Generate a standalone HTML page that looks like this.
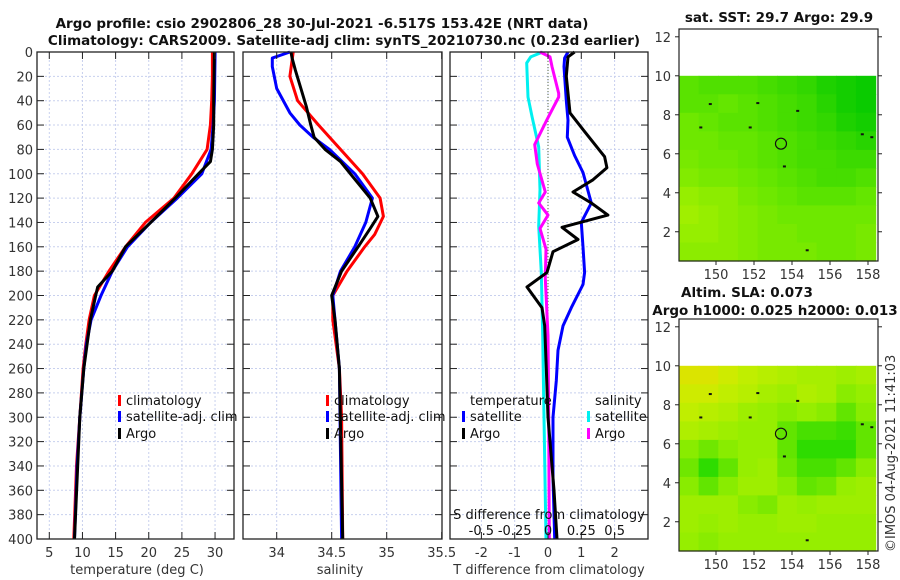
<!DOCTYPE html>
<html><head><meta charset="utf-8">
<style>
html,body{margin:0;padding:0;background:#fff;}
svg{display:block;font-family:"DejaVu Sans","Liberation Sans",sans-serif;}
</style></head>
<body>
<svg id="fig" width="900" height="580" viewBox="0 0 900 580"></svg>
<script>
// ---------- DATA ----------
const depthTicks = [0,20,40,60,80,100,120,140,160,180,200,220,240,260,280,300,320,340,360,380,400];
const tempTicks = [5,10,15,20,25,30];
const salTicks = [34,34.5,35,35.5];
const tdiffTicks = [-2,-1,0,1,2];
const sdiffTicks = [-0.5,-0.25,0,0.25,0.5];
const sdiffTickLabels = ["-0.5","-0.25","0","0.25","0.5"];
const latTicks = [2,4,6,8,10,12];
const lonTicks = [150,152,154,156,158];

const tClimDepth = [0,20,40,60,80,100,120,140,160,180,200,220,240,260,300,340,400];
const tClimVal   = [29.6,29.6,29.5,29.3,28.8,26.5,23.8,19.5,16.5,14,11.8,11,10.5,10.1,9.6,9.1,8.7];
const tSatDepth  = [0,40,60,80,100,120,140,160,180,200,220,240,260,300,340,400];
const tSatVal    = [30,29.9,29.7,29.4,28,24.3,20.3,16.8,14.5,12.8,11.3,10.6,10.2,9.6,9.2,8.8];
const tArgoDepth = [0,40,60,80,90,100,120,140,160,180,193,200,220,260,300,400];
const tArgoVal   = [29.9,29.8,29.8,29.6,29.3,27.5,24,20.3,16.5,14.5,12.3,12,11.2,10.2,9.6,8.8];

const sClimDepth = [0,20,40,60,80,100,120,135,150,160,180,200,220,260,300,400];
const sClimVal   = [34.15,34.12,34.19,34.38,34.58,34.78,34.94,34.97,34.89,34.8,34.64,34.51,34.51,34.57,34.59,34.6];
const sSatDepth  = [0,5,12,30,50,60,70,80,100,120,140,160,180,200,220,260,400];
const sSatVal    = [34.12,33.96,33.96,34.0,34.12,34.21,34.33,34.48,34.71,34.87,34.81,34.71,34.58,34.51,34.53,34.57,34.59];
const sArgoDepth = [0,5,15,30,45,60,70,80,90,100,120,135,145,160,180,200,220,260,400];
const sArgoVal   = [34.13,34.14,34.17,34.22,34.27,34.31,34.34,34.44,34.58,34.67,34.85,34.92,34.85,34.74,34.59,34.5,34.53,34.57,34.6];

const dTSatDepth = [0,5,12,40,56,70,85,99,124,140,160,181,191,210,225,245,270,300,350,400];
const dTSatVal   = [0.6,0.5,0.48,0.55,0.6,0.58,0.8,1.05,1.3,1.0,1.05,1.1,1.05,0.7,0.45,0.3,0.25,0.15,0.15,0.2];
const dTArgoDepth = [0,4,20,50,64,86,95,105,115,124,134,144,154,164,181,193,210,225,260,300,323,360,400];
const dTArgoVal   = [0.8,0.6,0.55,0.66,1.06,1.7,1.77,1.35,0.75,1.3,1.8,0.42,0.9,0.15,-0.03,-0.63,-0.18,-0.1,-0.05,0.0,0.07,0.18,0.27];
const dSSatDepth = [0,4,9,37,53,78,113,143,181,233,300,400];
const dSSatVal   = [-0.04,-0.13,-0.16,-0.15,-0.12,-0.07,-0.06,-0.07,-0.05,-0.04,-0.03,-0.015];
const dSArgoDepth = [0,4,12,34,37,56,76,92,115,124,134,145,162,186,233,300,400];
const dSArgoVal   = [-0.06,0.015,0.03,0.08,0.08,-0.01,-0.1,-0.08,-0.02,-0.07,0,-0.06,-0.015,-0.02,0,0.005,0.01];

const sstGrid = [
[0.45,0.4,0.4,0.4,0.35,0.3,0.25,0.15,0.1,0.05],
[0.45,0.45,0.5,0.45,0.4,0.35,0.3,0.2,0.1,0.05],
[0.55,0.5,0.45,0.45,0.4,0.35,0.3,0.25,0.15,0.1],
[0.55,0.55,0.5,0.5,0.45,0.4,0.35,0.3,0.25,0.2],
[0.6,0.55,0.55,0.5,0.45,0.4,0.35,0.35,0.3,0.3],
[0.65,0.6,0.6,0.55,0.5,0.45,0.4,0.35,0.35,0.4],
[0.75,0.7,0.7,0.6,0.55,0.5,0.45,0.45,0.45,0.5],
[0.8,0.75,0.7,0.65,0.6,0.55,0.55,0.55,0.55,0.55],
[0.75,0.75,0.7,0.65,0.6,0.6,0.55,0.55,0.55,0.6],
[0.7,0.7,0.7,0.65,0.6,0.6,0.6,0.55,0.55,0.6]];
const slaGrid = [
[0.95,0.95,0.85,0.75,0.7,0.65,0.6,0.6,0.55,0.6],
[0.85,0.85,0.75,0.7,0.6,0.55,0.65,0.6,0.45,0.5],
[0.75,0.7,0.65,0.55,0.5,0.45,0.5,0.45,0.3,0.45],
[0.65,0.6,0.55,0.5,0.5,0.3,0.2,0.2,0.15,0.3],
[0.45,0.35,0.45,0.5,0.5,0.3,0.1,0.1,0.1,0.3],
[0.35,0.1,0.3,0.5,0.55,0.35,0.2,0.2,0.3,0.45],
[0.45,0.3,0.45,0.55,0.55,0.45,0.3,0.35,0.5,0.55],
[0.55,0.55,0.55,0.45,0.4,0.55,0.5,0.55,0.55,0.55],
[0.55,0.5,0.55,0.5,0.5,0.55,0.55,0.5,0.5,0.5],
[0.5,0.45,0.5,0.5,0.5,0.5,0.5,0.5,0.5,0.5]];
const argoLon = 153.42, argoLat = 6.517;

// ---------- HELPERS ----------
const NS = "http://www.w3.org/2000/svg";
const svg = document.getElementById("fig");
function el(tag, attrs, parent, text){
  const e = document.createElementNS(NS, tag);
  for (const k in attrs) e.setAttribute(k, attrs[k]);
  if (text !== undefined) e.textContent = text;
  (parent || svg).appendChild(e);
  return e;
}
const Y0 = 52, Y1 = 539;
const yD = d => Y0 + d * (Y1 - Y0) / 400;
const xT = t => 49.3 + (t - 5) * 6.63;
const xS = s => 276.7 + (s - 34) * 110;
const xdT = d => 548 + d * 33.3;
const xdS = d => 548 + d * 133.3;

function panel(x0, x1, name, xTicksArr, xf, labels, showY){
  const g = el("g", {});
  
  
  // grid
  depthTicks.forEach(d => { if (d>0 && d<400) el("line",{x1:x0,x2:x1,y1:yD(d),y2:yD(d),stroke:"#c8d0ee","stroke-width":1,"stroke-dasharray":"2,2"},g); });
  xTicksArr.forEach(v => { const x = xf(v); if (x>x0+1 && x<x1-1) el("line",{x1:x,x2:x,y1:Y0,y2:Y1,stroke:"#c8d0ee","stroke-width":1,"stroke-dasharray":"2,2"},g); });
  return g;
}
function frame(x0,x1,g,xTicksArr,xf,labels,showY,name){
  el("rect",{x:x0,y:Y0,width:x1-x0,height:Y1-Y0,fill:"none",stroke:"#222","stroke-width":1.3},g);
  depthTicks.forEach(d => {
    el("line",{x1:x0,x2:x0+7,y1:yD(d),y2:yD(d),stroke:"#222"},g);
    el("line",{x1:x1-7,x2:x1,y1:yD(d),y2:yD(d),stroke:"#222"},g);
    if (showY){
      const t = el("text",{x:x0-4,y:yD(d)+5,"text-anchor":"end","font-size":13,fill:"#333"},g,String(d));
      
      
    }
  });
  xTicksArr.forEach((v,i) => {
    const x = xf(v);
    el("line",{x1:x,x2:x,y1:Y1,y2:Y1-7,stroke:"#222"},g);
    el("line",{x1:x,x2:x,y1:Y0,y2:Y0+7,stroke:"#222"},g);
    const t = el("text",{x:x,y:557,"text-anchor":"middle","font-size":13,fill:"#333"},g,labels[i]);
    
    
  });
}
function line(dep, val, xf, color, name, g, w){
  const pts = dep.map((d,i) => xf(val[i]).toFixed(1) + "," + yD(d).toFixed(1)).join(" ");
  const p = el("polyline",{points:pts,fill:"none",stroke:color,"stroke-width":w||3,"stroke-linejoin":"round"},g);
  
  
  return p;
}
function legendEntry(x, y, color, label, g, name){
  const e = el("g",{},g);
  
  
  el("rect",{x:x,y:y-10,width:3,height:11,fill:color},e);
  el("text",{x:x+8,y:y,"font-size":13,fill:"#111"},e,label);
}

// ---------- TITLE ----------
const t1 = el("text",{x:322,y:28,"text-anchor":"middle","font-size":13.5,"font-weight":"bold",fill:"#111"},svg,"Argo profile: csio 2902806_28 30-Jul-2021 -6.517S 153.42E (NRT data)");


const t2 = el("text",{x:344,y:45,"text-anchor":"middle","font-size":13.5,"font-weight":"bold",fill:"#111"},svg,"Climatology: CARS2009. Satellite-adj clim: synTS_20210730.nc (0.23d earlier)");



// ---------- PANEL 1: temperature ----------
const tTickLabels = tempTicks.map(String);
const g1 = panel(37,234,"temperature-panel",tempTicks,xT);
line(tClimDepth,tClimVal,xT,"#ff0000","temp-climatology-line",g1);
line(tSatDepth,tSatVal,xT,"#0000ff","temp-satellite-line",g1);
line(tArgoDepth,tArgoVal,xT,"#000000","temp-argo-line",g1);
frame(37,234,g1,tempTicks,xT,tTickLabels,true,"temperature");
legendEntry(118,405,"#ff0000","climatology",g1,"legend-entry-climatology");
legendEntry(118,421,"#0000ff","satellite-adj. clim",g1,"legend-entry-satellite");
legendEntry(118,438,"#000000","Argo",g1,"legend-entry-argo");
const xl1 = el("text",{x:137,y:574,"text-anchor":"middle","font-size":13,fill:"#333"},g1,"temperature (deg C)");



// ---------- PANEL 2: salinity ----------
const g2 = panel(243,442,"salinity-panel",salTicks,xS);
line(sClimDepth,sClimVal,xS,"#ff0000","sal-climatology-line",g2);
line(sSatDepth,sSatVal,xS,"#0000ff","sal-satellite-line",g2);
line(sArgoDepth,sArgoVal,xS,"#000000","sal-argo-line",g2);
frame(243,442,g2,salTicks,xS,salTicks.map(String),false,"salinity");
legendEntry(326,405,"#ff0000","climatology",g2,"legend-entry-climatology");
legendEntry(326,421,"#0000ff","satellite-adj. clim",g2,"legend-entry-satellite");
legendEntry(326,438,"#000000","Argo",g2,"legend-entry-argo");
const xl2 = el("text",{x:340,y:574,"text-anchor":"middle","font-size":13,fill:"#333"},g2,"salinity");



// ---------- PANEL 3: differences ----------
const g3 = panel(450,648,"difference-panel",tdiffTicks,xdT);
el("line",{x1:548,x2:548,y1:Y0,y2:Y1,stroke:"#556644","stroke-width":1,"stroke-dasharray":"1,2"},g3);
line(dSSatDepth,dSSatVal,xdS,"#00f0f0","sal-diff-satellite-line",g3);
line(dSArgoDepth,dSArgoVal,xdS,"#ff00ff","sal-diff-argo-line",g3);
line(dTSatDepth,dTSatVal,xdT,"#0000ff","temp-diff-satellite-line",g3);
line(dTArgoDepth,dTArgoVal,xdT,"#000000","temp-diff-argo-line",g3);
frame(450,648,g3,tdiffTicks,xdT,tdiffTicks.map(String),false,"tdiff");
el("text",{x:470,y:405,"font-size":13,fill:"#111"},g3,"temperature");
legendEntry(462,421,"#0000ff","satellite",g3,"legend-entry-temp-satellite");
legendEntry(462,438,"#000000","Argo",g3,"legend-entry-temp-argo");
el("text",{x:595,y:405,"font-size":13,fill:"#111"},g3,"salinity");
legendEntry(587,421,"#00f0f0","satellite",g3,"legend-entry-sal-satellite");
legendEntry(587,438,"#ff00ff","Argo",g3,"legend-entry-sal-argo");
const sdt = el("text",{x:549,y:519,"text-anchor":"middle","font-size":13,fill:"#111"},g3,"S difference from climatology");


sdiffTicks.forEach((v,i)=>{
  const t = el("text",{x:xdS(v),y:535,"text-anchor":"middle","font-size":13,fill:"#111"},g3,sdiffTickLabels[i]);
  
  
});
const xl3 = el("text",{x:549,y:574,"text-anchor":"middle","font-size":13,fill:"#333"},g3,"T difference from climatology");



// ---------- MAPS ----------
function lerpColor(v, stops){
  for (let i=0;i<stops.length-1;i++){
    const a=stops[i], b=stops[i+1];
    if (v<=b[0]){
      const f=(v-a[0])/(b[0]-a[0]);
      return "rgb("+[1,2,3].map(k=>Math.round(a[k]+(b[k]-a[k])*f)).join(",")+")";
    }
  }
  const l=stops[stops.length-1]; return "rgb("+l[1]+","+l[2]+","+l[3]+")";
}
const sstStops = [[0,0,200,0],[0.5,100,230,0],[1,200,245,0]];
const slaStops = [[0,20,215,0],[0.5,150,238,0],[0.8,200,238,0],[1,225,225,0]];
function mapPanel(top, bot, latTop, grid, stops, name, titles){
  const g = el("g",{});
  
  
  const x0=679, x1=878;
  const ppd = (bot-top)/(12.4-0.5);
  const yL = lat => bot - (lat-0.5)*ppd;
  const xL = lon => 716 + (lon-150)*19;
  const lonMin=148.05, lonMax=158.4, latMin=0.5, latMax=10;
  const nr=grid.length, nc=grid[0].length;
  const dLon=(lonMax-lonMin)/nc, dLat=(latMax-latMin)/nr;
  grid.forEach((row,r)=>row.forEach((v,c)=>{
    const xa=xL(lonMin+c*dLon), xb=xL(lonMin+(c+1)*dLon);
    const ya=yL(latMax-r*dLat), yb=yL(latMax-(r+1)*dLat);
    const cell = el("rect",{x:xa.toFixed(1),y:ya.toFixed(1),width:(xb-xa+0.6).toFixed(1),height:(yb-ya+0.6).toFixed(1),fill:lerpColor(v,stops)},g);
    
    
  }));
  // specks
  [[151.8,7.35],[149.7,8.55],[152.2,8.6],[154.3,8.2],[149.2,7.35],[153.6,5.35],[157.7,7.0],[158.2,6.85],[154.8,1.05]].forEach(p=>{
    el("rect",{x:xL(p[0])-1.5,y:yL(p[1])-1,width:3,height:2,fill:"#111"},g);
  });
  const c = el("circle",{cx:xL(argoLon),cy:yL(argoLat),r:5.5,fill:"none",stroke:"#111","stroke-width":1.2},g);
  
  
  el("rect",{x:x0,y:top,width:x1-x0,height:bot-top,fill:"none",stroke:"#222","stroke-width":1.2},g);
  latTicks.forEach(l=>{
    const y=yL(l);
    el("line",{x1:x0-4,x2:x0,y1:y,y2:y,stroke:"#222"},g);
    el("line",{x1:x1,x2:x1+4,y1:y,y2:y,stroke:"#222"},g);
    const t=el("text",{x:x0-8,y:y+5,"text-anchor":"end","font-size":13,fill:"#333"},g,String(l));
    
    
  });
  lonTicks.forEach(l=>{
    const x=xL(l);
    el("line",{x1:x,x2:x,y1:bot,y2:bot+4,stroke:"#222"},g);
    const t=el("text",{x:x,y:bot+18,"text-anchor":"middle","font-size":13,fill:"#333"},g,String(l));
    
    
  });
  titles.forEach((s,i)=>{
    const t=el("text",{x:s[1],y:s[2],"text-anchor":"middle","font-size":13.5,"font-weight":"bold",fill:"#111"},g,s[0]);
    
    
  });
}
mapPanel(29,261,12.4,sstGrid,sstStops,"sst-map",[["sat. SST: 29.7 Argo: 29.9",779,22]]);
mapPanel(319,551,12.4,slaGrid,slaStops,"sla-map",[["Altim. SLA: 0.073",747,297],["Argo h1000: 0.025 h2000: 0.013",775,315]]);

const cp = el("text",{x:0,y:0,"font-size":13,fill:"#333",transform:"translate(895,552) rotate(-90)"},svg,"©IMOS 04-Aug-2021 11:41:03");


</script>
</body></html>
